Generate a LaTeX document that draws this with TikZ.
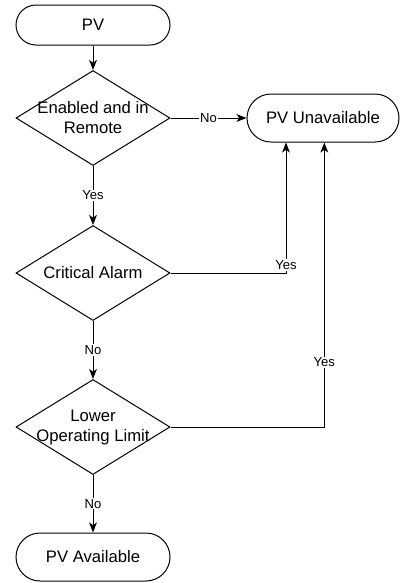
\documentclass[tikz,border=0pt]{standalone}
\usepackage{fontspec}
\setmainfont{Liberation Sans}
\usetikzlibrary{shapes.geometric,arrows.meta}

\begin{document}
\begin{tikzpicture}[
  x=0.75pt, y=-0.75pt,
  line width=0.75pt,
  txt/.style={font=\fontsize{12.5}{15}\selectfont},
  terminal/.style={draw, rectangle, inner sep=0pt, txt},
  decision/.style={draw, diamond, minimum width=115.5pt, minimum height=71.25pt, inner sep=0pt},
  dtext/.style={align=center, txt},
  lbl/.style={fill=white, inner sep=0.8pt, font=\fontsize{9.8}{11}\selectfont},
  arr/.style={-{Stealth[length=7.5pt, width=5.8pt, inset=2pt]}}
]
\useasboundingbox (0,0) rectangle (400,583);

% start / end terminals
\node[terminal, minimum width=115.5pt, minimum height=30pt, rounded corners=15pt] (pv) at (93,25) {PV};
\node[terminal, minimum width=114pt, minimum height=36pt, rounded corners=18pt] (unav) at (323,118) {PV Unavailable};
\node[terminal, minimum width=115.5pt, minimum height=36pt, rounded corners=18pt] (avail) at (93,557) {PV Available};

% decisions
\node[decision, label={[dtext]center:Enabled and in\\Remote}] (d1) at (93,118) {};
\node[decision, label={[dtext]center:Critical Alarm}] (d2) at (93,273) {};
\node[decision, label={[dtext]center:Lower\\Operating Limit}] (d3) at (93,427) {};

% flow
\draw[arr] (pv) -- (d1);
\draw[arr] (d1.east) -- node[lbl] {No} (unav.west);
\draw[arr] (d1) -- node[lbl] {Yes} (d2);
\draw[arr] (d2.east) -| node[lbl, pos=0.5, yshift=6pt] {Yes} ([xshift=-27.75pt]unav.south);
\draw[arr] (d2) -- node[lbl] {No} (d3);
\draw[arr] (d3.east) -| node[lbl, pos=0.614] {Yes} ([xshift=1pt]unav.south);
\draw[arr] (d3) -- node[lbl] {No} (avail);
\end{tikzpicture}
\end{document}
